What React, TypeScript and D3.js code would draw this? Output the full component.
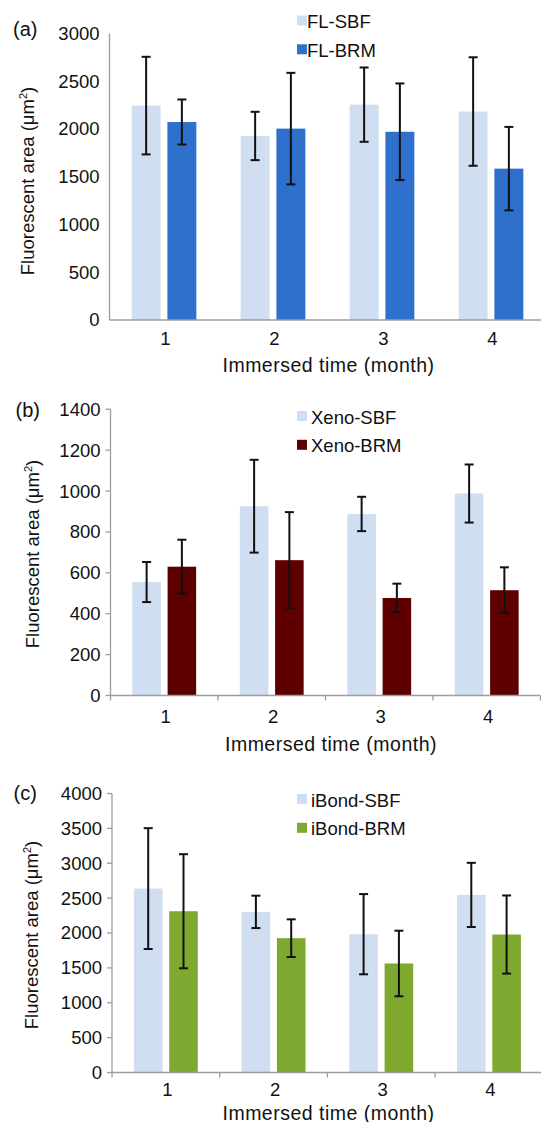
import React from "react";
import * as d3 from "d3";

const months = ["1", "2", "3", "4"];

// Panel (a)
const flSeries = ["FL-SBF", "FL-BRM"];
const flSBF = [2245, 1927, 2255, 2183];
const flSBFErr = [511, 253, 389, 568];
const flBRM = [2073, 2004, 1971, 1585];
const flBRMErr = [236, 584, 506, 437];
const flTicks = [0, 500, 1000, 1500, 2000, 2500, 3000];

// Panel (b)
const xenoSeries = ["Xeno-SBF", "Xeno-BRM"];
const xenoSBF = [555, 926, 888, 988];
const xenoSBFErr = [98, 227, 84, 142];
const xenoBRM = [630, 662, 477, 515];
const xenoBRMErr = [132, 235, 70, 112];
const xenoTicks = [0, 200, 400, 600, 800, 1000, 1200, 1400];

// Panel (c)
const ibSeries = ["iBond-SBF", "iBond-BRM"];
const ibSBF = [2637, 2303, 1983, 2546];
const ibSBFErr = [866, 232, 575, 460];
const ibBRM = [2312, 1926, 1563, 1978];
const ibBRMErr = [818, 270, 470, 560];
const ibTicks = [0, 500, 1000, 1500, 2000, 2500, 3000, 3500, 4000];

const SBF_COLOR = "#cfdef0";
const FONT = "'Liberation Sans', Arial, Helvetica, sans-serif";

type PanelProps = {
  label: string;
  series: string[];
  sbf: number[];
  sbfErr: number[];
  brm: number[];
  brmErr: number[];
  ticks: number[];
  color: string;
  x0: number;
  step: number;
  yTop: number;
  yBottom: number;
  showTickMarks: boolean;
  labelX: number;
  labelY: number;
  legendTextX: number;
  legendY: number;
  xLabelY: number;
  xTitleY: number;
  xTitleX: number;
  yTitleX: number;
  yTitleCY: number;
};

function Panel(p: PanelProps) {
  const maxV = p.ticks[p.ticks.length - 1];
  const y = d3.scaleLinear().domain([0, maxV]).range([p.yBottom, p.yTop]);
  const x = d3
    .scaleBand<string>()
    .domain(months)
    .range([p.x0, p.x0 + p.step * months.length])
    .paddingInner(0)
    .paddingOuter(0);
  const bw = x.bandwidth();
  const inner = d3
    .scaleBand<string>()
    .domain(["SBF", "BRM"])
    .range([0, bw])
    .paddingInner(0.19)
    .paddingOuter(0.62);
  const barW = inner.bandwidth();
  const groups = [
    { key: "SBF", vals: p.sbf, errs: p.sbfErr, color: SBF_COLOR },
    { key: "BRM", vals: p.brm, errs: p.brmErr, color: p.color },
  ];
  const axisColor = "#9d9d9d";
  const xEnd = p.x0 + p.step * months.length;
  return (
    <g fontFamily={FONT}>
      {groups.map((g) =>
        months.map((m, i) => (
          <rect
            key={g.key + m}
            x={(x(m) as number) + (inner(g.key) as number)}
            y={y(g.vals[i])}
            width={barW}
            height={y(0) - y(g.vals[i])}
            fill={g.color}
          />
        ))
      )}
      {groups.map((g) =>
        months.map((m, i) => {
          const cx = (x(m) as number) + (inner(g.key) as number) + barW / 2;
          const hi = y(g.vals[i] + g.errs[i]);
          const lo = y(g.vals[i] - g.errs[i]);
          const cap = 4.5;
          return (
            <g key={"e" + g.key + m} stroke="#111" strokeWidth={2}>
              <line x1={cx} x2={cx} y1={hi} y2={lo} />
              <line x1={cx - cap} x2={cx + cap} y1={hi} y2={hi} />
              <line x1={cx - cap} x2={cx + cap} y1={lo} y2={lo} />
            </g>
          );
        })
      )}
      <line x1={p.x0} x2={p.x0} y1={y(maxV)} y2={y(0)} stroke={axisColor} strokeWidth={1.3} />
      <line x1={p.x0} x2={xEnd} y1={y(0)} y2={y(0)} stroke={axisColor} strokeWidth={1.3} />
      {p.showTickMarks &&
        p.ticks.map((t) => (
          <line key={"yt" + t} x1={p.x0 - 5} x2={p.x0} y1={y(t)} y2={y(t)} stroke={axisColor} strokeWidth={1.3} />
        ))}
      {p.showTickMarks &&
        months.map((m) => (
          <line
            key={"xt" + m}
            x1={x(m) as number}
            x2={x(m) as number}
            y1={y(0)}
            y2={y(0) + 5}
            stroke={axisColor}
            strokeWidth={1.3}
          />
        ))}
      {p.showTickMarks && (
        <line x1={xEnd} x2={xEnd} y1={y(0)} y2={y(0) + 5} stroke={axisColor} strokeWidth={1.3} />
      )}
      {p.ticks.map((t) => (
        <text
          key={"yl" + t}
          x={p.x0 - 10}
          y={y(t)}
          dy="0.35em"
          textAnchor="end"
          fontSize={18.5}
          fill="#111"
        >
          {t}
        </text>
      ))}
      {months.map((m) => (
        <text
          key={"xl" + m}
          x={(x(m) as number) + bw / 2 + 1.5}
          y={p.xLabelY}
          textAnchor="middle"
          fontSize={18.5}
          fill="#111"
        >
          {m}
        </text>
      ))}
      <text x={p.xTitleX} y={p.xTitleY} textAnchor="middle" fontSize={19.5} letterSpacing={0.5} fill="#111">
        Immersed time (month)
      </text>
      <text
        transform={`translate(${p.yTitleX},${p.yTitleCY}) rotate(-90)`}
        textAnchor="middle"
        fontSize={18.5}
        fill="#111"
      >
        Fluorescent area (μm
        <tspan fontSize={11} dy={-7}>
          2
        </tspan>
        <tspan dy={7}>)</tspan>
      </text>
      <text x={p.labelX} y={p.labelY} fontSize={20} fill="#111">
        {p.label}
      </text>
      {p.series.map((s, i) => (
        <g key={"lg" + s}>
          <rect
            x={297}
            y={p.legendY + i * 28.8 - 12.5}
            width={10}
            height={10}
            fill={i === 0 ? SBF_COLOR : p.color}
          />
          <text x={p.legendTextX} y={p.legendY + i * 28.8} fontSize={18.5} fill="#111">
            {s}
          </text>
        </g>
      ))}
    </g>
  );
}

export default function App() {
  return (
    <svg
      width={541}
      height={1122}
      viewBox="0 0 541 1122"
      style={{ position: "absolute", left: 0, top: 0, background: "#fff" }}
    >
      <rect x={0} y={0} width={541} height={1122} fill="#fff" />
      <Panel
        label="(a)"
        series={flSeries}
        sbf={flSBF}
        sbfErr={flSBFErr}
        brm={flBRM}
        brmErr={flBRMErr}
        ticks={flTicks}
        color="#2e70cb"
        x0={109.5}
        step={109}
        yTop={33.5}
        yBottom={320}
        showTickMarks={false}
        labelX={13}
        labelY={35.5}
        legendTextX={307}
        legendY={28}
        xLabelY={345}
        xTitleY={372}
        xTitleX={328.5}
        yTitleX={33.5}
        yTitleCY={181}
      />
      <Panel
        label="(b)"
        series={xenoSeries}
        sbf={xenoSBF}
        sbfErr={xenoSBFErr}
        brm={xenoBRM}
        brmErr={xenoBRMErr}
        ticks={xenoTicks}
        color="#5e0000"
        x0={110.5}
        step={107.5}
        yTop={409.3}
        yBottom={695.5}
        showTickMarks={true}
        labelX={15.5}
        labelY={417}
        legendTextX={311}
        legendY={423.5}
        xLabelY={723}
        xTitleY={751}
        xTitleX={331}
        yTitleX={38.5}
        yTitleCY={554}
      />
      <Panel
        label="(c)"
        series={ibSeries}
        sbf={ibSBF}
        sbfErr={ibSBFErr}
        brm={ibBRM}
        brmErr={ibBRMErr}
        ticks={ibTicks}
        color="#7fa830"
        x0={112}
        step={107.7}
        yTop={793.5}
        yBottom={1072.5}
        showTickMarks={true}
        labelX={13.5}
        labelY={800}
        legendTextX={311}
        legendY={806.5}
        xLabelY={1095.5}
        xTitleY={1119.5}
        xTitleX={328.5}
        yTitleX={38}
        yTitleCY={935}
      />
    </svg>
  );
}
